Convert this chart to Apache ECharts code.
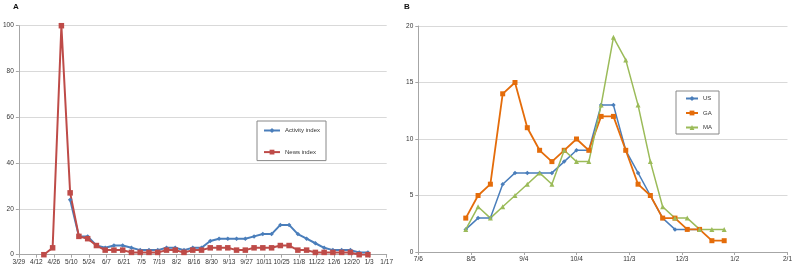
<!DOCTYPE html>
<html>
<head>
<meta charset="utf-8">
<script src="https://cdn.jsdelivr.net/npm/echarts@6/dist/echarts.min.js"></script>
<style>
  html, body { margin: 0; padding: 0; background: #fff; }
  #chart { width: 795px; height: 268px; }
</style>
</head>
<body>
<div id="chart"></div>
<script>
// panel A: weekly indices, 2009 season
const startA = "2009-03-29"
const weeksA = [
  "2009-04-18", "2009-04-25", "2009-05-02", "2009-05-09", "2009-05-16", "2009-05-23",
  "2009-05-30", "2009-06-06", "2009-06-13", "2009-06-20", "2009-06-27", "2009-07-04",
  "2009-07-11", "2009-07-18", "2009-07-25", "2009-08-01", "2009-08-08", "2009-08-15",
  "2009-08-22", "2009-08-29", "2009-09-05", "2009-09-12", "2009-09-19", "2009-09-26",
  "2009-10-03", "2009-10-10", "2009-10-17", "2009-10-24", "2009-10-31", "2009-11-07",
  "2009-11-14", "2009-11-21", "2009-11-28", "2009-12-05", "2009-12-12", "2009-12-19",
  "2009-12-26", "2010-01-02"
]
const activityIndex = [
  null, null, null, 24, 8, 8, 4, 3, 4, 4, 3, 2, 2, 2, 3, 3, 2, 3, 3,
  6, 7, 7, 7, 7, 8, 9, 9, 13, 13, 9, 7, 5, 3, 2, 2, 2, 1, 1
]
const newsIndex = [
  0, 3, 100, 27, 8, 7, 4, 2, 2, 2, 1, 1, 1, 1, 2, 2, 1, 2, 2,
  3, 3, 3, 2, 2, 3, 3, 3, 4, 4, 2, 2, 1, 1, 1, 1, 1, 0, 0
]

// panel B: weekly values by region
const startB = "2009-07-06"
const weeksB = [
  "2009-08-02", "2009-08-09", "2009-08-16", "2009-08-23", "2009-08-30", "2009-09-06",
  "2009-09-13", "2009-09-20", "2009-09-27", "2009-10-04", "2009-10-11", "2009-10-18",
  "2009-10-25", "2009-11-01", "2009-11-08", "2009-11-15", "2009-11-22", "2009-11-29",
  "2009-12-06", "2009-12-13", "2009-12-20", "2009-12-27"
]
const usValues = [2, 3, 3, 6, 7, 7, 7, 7, 8, 9, 9, 13, 13, 9, 7, 5, 3, 2, 2, 2, null, null]
const gaValues = [3, 5, 6, 14, 15, 11, 9, 8, 9, 10, 9, 12, 12, 9, 6, 5, 3, 3, 2, 2, 1, 1]
const maValues = [2, 4, 3, 4, 5, 6, 7, 6, 9, 8, 8, 13, 19, 17, 13, 8, 4, 3, 3, 2, 2, 2]

const DAY = 86400000
const toDay = (d, start) => (Date.parse(d) - Date.parse(start)) / DAY
const dayLabel = start => v => {
  const d = new Date(Date.parse(start) + v * DAY)
  return (d.getUTCMonth() + 1) + "/" + d.getUTCDate()
}
const pairs = (weeks, vals, start) =>
  weeks.map((w, i) => [toDay(w, start), vals[i]]).filter(p => p[1] != null)

const axisGray = "#a6a6a6"
const labelStyle = { fontSize: 6.5, color: "#333", fontFamily: "Liberation Sans" }

const xAxisBase = (idx, start, max, step) => ({
  type: "value",
  gridIndex: idx,
  min: 0,
  max: max,
  interval: step,
  axisLine: { show: true, lineStyle: { color: axisGray, width: 1 } },
  axisTick: { show: true, length: 3, lineStyle: { color: axisGray } },
  splitLine: { show: false },
  axisLabel: { ...labelStyle, margin: 4, showMaxLabel: true, formatter: dayLabel(start) },
})
const yAxisBase = (idx, max, step) => ({
  type: "value",
  gridIndex: idx,
  min: 0,
  max: max,
  interval: step,
  axisLine: { show: true, lineStyle: { color: axisGray, width: 1 } },
  axisTick: { show: true, length: 3, lineStyle: { color: axisGray } },
  splitLine: { show: true, lineStyle: { color: "#d9d9d9", width: 1 } },
  axisLabel: { ...labelStyle, margin: 5 },
})

const lineSeries = (name, data, idx, color, symbol, size, width) => ({
  name: name,
  type: "line",
  xAxisIndex: idx,
  yAxisIndex: idx,
  data: data,
  symbol: symbol,
  symbolSize: size,
  showAllSymbol: true,
  animation: false,
  lineStyle: { color: color, width: width },
  itemStyle: { color: color },
})

const chart = echarts.init(document.getElementById("chart"))

chart.setOption({
  backgroundColor: "#fff",
  animation: false,
  title: [
    { text: "A", left: 8, top: -2, textStyle: { fontSize: 8, fontWeight: "bold", color: "#111", fontFamily: "Liberation Sans" } },
    { text: "B", left: 399, top: -2, textStyle: { fontSize: 8, fontWeight: "bold", color: "#111", fontFamily: "Liberation Sans" } },
  ],
  legend: [
    {
      data: ["Activity index", "News index"],
      orient: "vertical",
      left: 257,
      top: 121,
      padding: [5.5, 6, 4.5, 6],
      itemWidth: 16,
      itemHeight: 6,
      itemGap: 13.6,
      borderColor: "#888",
      borderWidth: 1,
      backgroundColor: "#fff",
      textStyle: { fontSize: 6, lineHeight: 8, color: "#333", fontFamily: "Liberation Sans" },
    },
    {
      data: ["US", "GA", "MA"],
      orient: "vertical",
      left: 676,
      top: 91,
      padding: [3.5, 7, 2.5, 9],
      itemWidth: 12,
      itemHeight: 6,
      itemGap: 6.5,
      borderColor: "#888",
      borderWidth: 1,
      backgroundColor: "#fff",
      textStyle: { fontSize: 6, lineHeight: 8, color: "#333", fontFamily: "Liberation Sans" },
    },
  ],
  grid: [
    { left: 17, top: 25.7, width: 369.7, height: 229, containLabel: false },
    { left: 418.3, top: 26, width: 369.4, height: 226, containLabel: false },
  ],
  xAxis: [xAxisBase(0, startA, 294, 14), xAxisBase(1, startB, 210, 30)],
  yAxis: [yAxisBase(0, 100, 20), yAxisBase(1, 20, 5)],
  series: [
    lineSeries("Activity index", pairs(weeksA, activityIndex, startA), 0, "#4a7ebb", "diamond", 4.5, 2),
    lineSeries("News index", pairs(weeksA, newsIndex, startA), 0, "#be4b48", "rect", 5.5, 2),
    lineSeries("US", pairs(weeksB, usValues, startB), 1, "#4a7ebb", "diamond", 4.5, 1.5),
    lineSeries("GA", pairs(weeksB, gaValues, startB), 1, "#e46c0a", "rect", 5, 1.8),
    lineSeries("MA", pairs(weeksB, maValues, startB), 1, "#9bbb59", "triangle", 5, 1.5),
  ],
})
</script>
</body>
</html>
